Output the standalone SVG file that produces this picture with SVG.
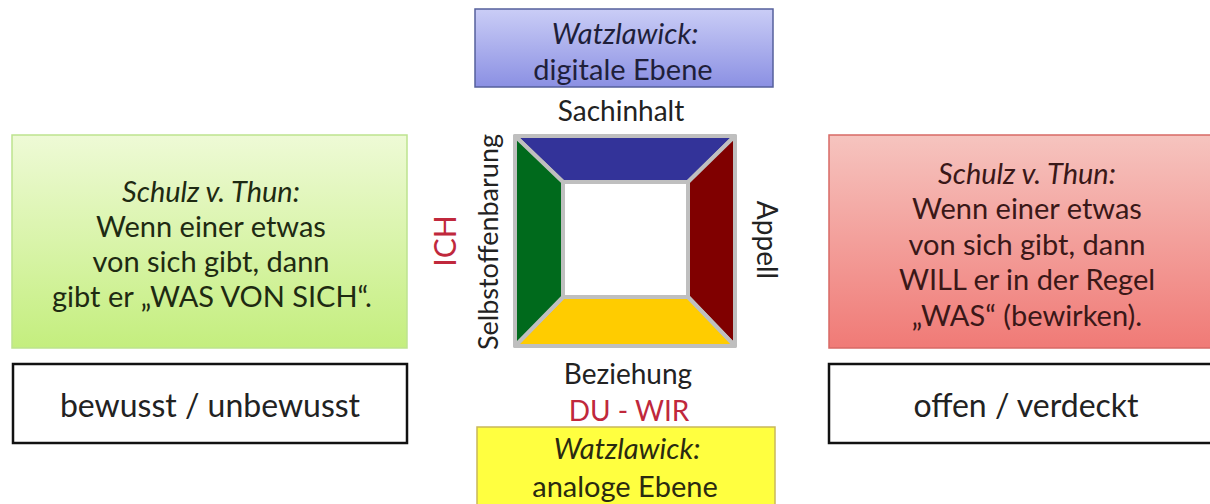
<svg xmlns="http://www.w3.org/2000/svg" width="1210" height="504" viewBox="0 0 1210 504">
<defs>
<linearGradient id="gBlue" x1="0" y1="0" x2="0" y2="1"><stop offset="0" stop-color="#cacdf6"/><stop offset="1" stop-color="#8b90e3"/></linearGradient>
<linearGradient id="gGreen" x1="0" y1="0" x2="0" y2="1"><stop offset="0" stop-color="#eefad6"/><stop offset="1" stop-color="#c4ee7e"/></linearGradient>
<linearGradient id="gRed" x1="0" y1="0" x2="0" y2="1"><stop offset="0" stop-color="#f6c4bf"/><stop offset="1" stop-color="#f07a76"/></linearGradient>
<style>
text{font-family:Lato,"Open Sans","Liberation Sans",sans-serif;fill:#222;text-anchor:middle;dominant-baseline:central}
.t{font-size:29px}
.i{font-style:italic}
.red{fill:#c0283c}
.lab{font-size:28px}
.side{stroke:#bfbfbf;stroke-width:4;stroke-linejoin:round}
.plain{fill:#fff;stroke:#111;stroke-width:2.5}
.big{font-size:32px}
</style>
</defs>
<rect width="1210" height="504" fill="#fff"/>
<g id="digital">
<rect x="475" y="9" width="298" height="78" fill="url(#gBlue)" stroke="#56609c" stroke-width="1.5"/>
<text x="625" y="32" class="t i" style="fill:#1f1f3a">Watzlawick:</text>
<text x="623" y="68" class="t" style="fill:#1f1f3a">digitale Ebene</text>
</g>
<g id="square">
<polygon class="side" points="515,136 735,136 688,182 563,182" fill="#333399"/>
<polygon class="side" points="735,136 735,346 688,297 688,182" fill="#800000"/>
<polygon class="side" points="515,346 735,346 688,297 563,297" fill="#ffcc00"/>
<polygon class="side" points="515,136 563,182 563,297 515,346" fill="#006a1c"/>
<rect class="side" x="563" y="182" width="125" height="115" fill="#fff"/>
<text x="621" y="110" class="lab">Sachinhalt</text>
<text x="628" y="373" class="lab">Beziehung</text>
<text x="629" y="410" class="lab red">DU - WIR</text>
<text transform="translate(487,242) rotate(-90)" style="font-size:27px">Selbstoffenbarung</text>
<text transform="translate(444,241) rotate(-90)" class="red" style="font-size:30px">ICH</text>
<text transform="translate(768,240) rotate(90)" class="lab">Appell</text>
</g>
<g id="ich">
<rect x="12" y="135" width="395" height="213" fill="url(#gGreen)" stroke="#bde38f" stroke-width="1.5"/>
<text x="211" y="190" class="t i" style="fill:#1e2a12">Schulz v. Thun:</text>
<text x="211" y="225" class="t" style="fill:#1e2a12">Wenn einer etwas</text>
<text x="211" y="260" class="t" style="fill:#1e2a12">von sich gibt, dann</text>
<text x="212" y="295" class="t" style="fill:#1e2a12">gibt er „WAS VON SICH“.</text>
</g>
<g id="bewusst">
<rect class="plain" x="13" y="364" width="394" height="79"/>
<text x="210" y="404" class="big">bewusst / unbewusst</text>
</g>
<g id="appell">
<rect x="829" y="135" width="394" height="213" fill="url(#gRed)" stroke="#d86a66" stroke-width="1.5"/>
<text x="1027" y="172" class="t i" style="fill:#3a1818">Schulz v. Thun:</text>
<text x="1027" y="207" class="t" style="fill:#3a1818">Wenn einer etwas</text>
<text x="1027" y="243" class="t" style="fill:#3a1818">von sich gibt, dann</text>
<text x="1027" y="278" class="t" style="fill:#3a1818">WILL er in der Regel</text>
<text x="1027" y="314" class="t" style="fill:#3a1818">„WAS“ (bewirken).</text>
</g>
<g id="offen">
<rect class="plain" x="829" y="364" width="394" height="79"/>
<text x="1026" y="404" class="big">offen / verdeckt</text>
</g>
<g id="analog">
<rect x="477" y="427" width="298" height="80" fill="#ffff40" stroke="#c9b85a" stroke-width="1.5"/>
<text x="627" y="447" class="t i" style="fill:#2a2a10">Watzlawick:</text>
<text x="625" y="485" class="t" style="fill:#2a2a10">analoge Ebene</text>
</g>
<g id="connectors"></g>
</svg>
